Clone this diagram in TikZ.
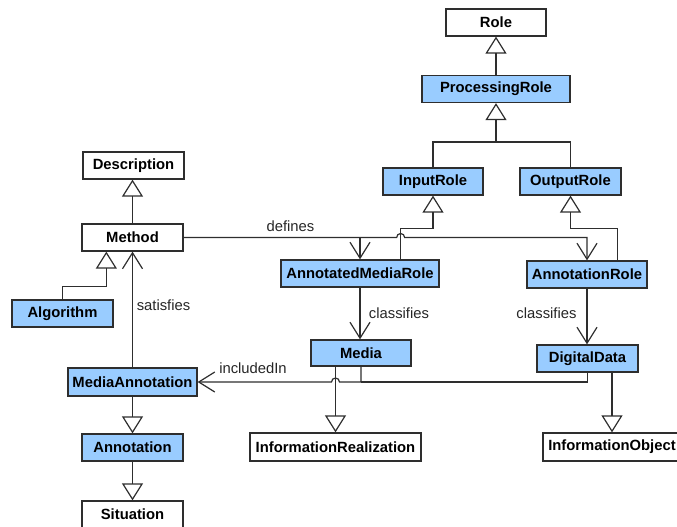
\documentclass[tikz,border=0pt]{standalone}
\usepackage{fontspec}
\setmainfont{Liberation Sans}
\usetikzlibrary{arrows.meta,calc}
\definecolor{boxblue}{HTML}{99CCFF}
\definecolor{linec}{HTML}{2E2E2E}
\begin{document}
\begin{tikzpicture}[x=1pt,y=-1pt,
  cls/.style={draw=linec, line width=1.3pt, inner sep=0pt, minimum height=27pt,
    font=\fontsize{14.8}{17}\selectfont\bfseries, text=black},
  blue/.style={cls, fill=boxblue},
  conn/.style={draw=linec, line width=1.2pt},
  gen/.style={conn, -{Triangle[open, length=17pt, width=21pt, line width=1.2pt]}},
  assoc/.style={conn, -{Straight Barb[length=16pt, width=20pt, line width=1.2pt]}},
  lbl/.style={font=\fontsize{14.8}{17}\selectfont, text=black!85, inner sep=0pt}]
\useasboundingbox (0,0) rectangle (677,527);
\clip (0,0) rectangle (677,527);

% classes
\node[cls,  minimum width=100pt] (role)   at (496,22.5)   {Role};
\node[blue, minimum width=148pt] (proc)   at (496,89)     {ProcessingRole};
\node[blue, minimum width=100pt] (input)  at (433,181.5)  {InputRole};
\node[blue, minimum width=101pt] (output) at (570.5,181.5){OutputRole};
\node[cls,  minimum width=101pt] (desc)   at (133.5,165.5){Description};
\node[cls,  minimum width=101pt] (method) at (132.5,237.5){Method};
\node[blue, minimum width=101pt] (algo)   at (62.5,313.5) {Algorithm};
\node[blue, minimum width=158pt] (amr)    at (360,273.5)  {AnnotatedMediaRole};
\node[blue, minimum width=120pt] (ar)     at (587,274.5)  {AnnotationRole};
\node[blue, minimum width=100pt, minimum height=26pt] (media) at (361,353) {Media};
\node[blue, minimum width=101pt] (dd)     at (587.5,358.5){DigitalData};
\node[blue, minimum width=129pt, minimum height=28pt] (ma) at (132.5,382) {MediaAnnotation};
\node[blue, minimum width=101pt] (ann)    at (132.5,447.5){Annotation};
\node[cls,  minimum width=101pt] (sit)    at (132.5,514.5){Situation};
\node[cls,  minimum width=171pt, minimum height=28pt] (ir) at (335.5,447) {InformationRealization};
\node[cls,  minimum width=138pt, minimum height=28pt] (io) at (612,447)   {InformationObject};

% helper coordinates
\coordinate (pbus)  at (496,142);
\coordinate (amrup) at ($(amr.north east)+(-39,0)$);
\coordinate (arup)  at ($(ar.north east)+(-30,0)$);

% generalisations
\draw[gen] (proc.north) -- (role.south);
\draw[gen] (input.north) |- (pbus) -- (proc.south);
\draw[conn] (output.north) |- (pbus);
\draw[gen] (amrup) -- ++(0,-31) -| (input.south);
\draw[gen] (arup) -- ++(0,-32) -| (output.south);
\draw[gen] (method.north) -- (method.north |- desc.south);
\draw[gen] (algo.north) |- ($(method.south west)+(25,35)$) -- ($(method.south west)+(25,0)$);
\draw[gen] (ma.south) -- (ann.north);
\draw[gen] (ann.south) -- (sit.north);
\draw[gen] (media.south -| ir.north) -- (ir.north);
\draw[gen] (dd.south -| io.north) -- (io.north);

% associations
\draw[assoc] (method.east) -| (amr.north);
\draw[assoc] (method.east) -- ($(amrup |- method.east)+(-4,0)$)
  arc[start angle=180, end angle=0, radius=4pt] -- (ar.north |- method.east) -- (ar.north);
\node[lbl] (ldef) at (290.5,226) {defines};

\draw[assoc] (amr.south) -- (amr.south |- media.north);
\node[lbl] (lcl1) at (399,313) {classifies};
\draw[assoc] (ar.south) -- (ar.south |- dd.north);
\node[lbl] (lcl2) at (546.5,313) {classifies};

\draw[assoc] (ma.north) -- (ma.north |- method.south);
\node[lbl] (lsat) at (163.5,305) {satisfies};

\draw[assoc] (media.south) |- ($(ir.north |- ma.east)+(4,0)$)
  arc[start angle=0, end angle=180, radius=4pt] -- (ma.east);
\draw[conn] (dd.south) |- (media.south |- ma.east);
\node[lbl] (linc) at (253,368) {includedIn};
\end{tikzpicture}
\end{document}
